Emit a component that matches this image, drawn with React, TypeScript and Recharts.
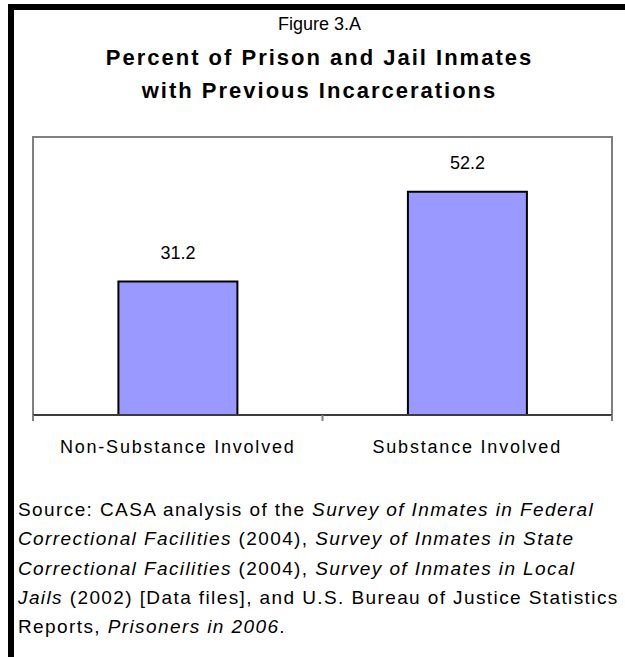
import React from "react";
import {
  BarChart,
  Bar,
  XAxis,
  YAxis,
  LabelList,
  ReferenceArea,
} from "recharts";

const categories: string[] = ["Non-Substance Involved", "Substance Involved"];
const percents: number[] = [31.2, 52.2];
const yDomain: [number, number] = [0, 65];

const data = categories.map((name, i) => ({ name, value: percents[i] }));

const font = '"Liberation Sans", Arial, sans-serif';
const tickGap = 19;

// category tick with Excel-style tick marks on the band boundaries
const CategoryTick = (props: any) => {
  const { x, y, payload, index, visibleTicksCount } = props;
  const half = payload.offset || 0;
  const axisY = y - tickGap;
  return (
    <g>
      <line x1={x - half} x2={x - half} y1={axisY} y2={axisY + 6} stroke="#808080" strokeWidth={2} />
      {index === visibleTicksCount - 1 && (
        <line x1={x + half} x2={x + half} y1={axisY} y2={axisY + 6} stroke="#808080" strokeWidth={2} />
      )}
      <text
        x={x}
        y={y + 6}
        dy="0.71em"
        textAnchor="middle"
        fill="#000"
        fontSize={18}
        fontFamily={font}
        letterSpacing={1.8}
      >
        {payload.value}
      </text>
    </g>
  );
};

const App: React.FC = () => {
  return (
    <div
      style={{
        position: "absolute",
        left: 0,
        top: 0,
        width: 625,
        height: 657,
        background: "#fff",
        fontFamily: font,
        color: "#000",
        overflow: "hidden",
      }}
    >
      <div
        style={{
          position: "absolute",
          left: 8,
          top: 4,
          right: 0,
          bottom: 0,
          borderTop: "6px solid #000",
          borderLeft: "6px solid #000",
        }}
      />
      <div
        style={{
          position: "absolute",
          left: 14,
          right: 0,
          top: 14,
          textAlign: "center",
          fontSize: 18,
          lineHeight: "20px",
        }}
      >
        Figure 3.A
      </div>
      <div
        style={{
          position: "absolute",
          left: 14,
          right: 0,
          top: 41,
          textAlign: "center",
          fontSize: 22,
          fontWeight: "bold",
          lineHeight: "33px",
          letterSpacing: 2,
        }}
      >
        Percent of Prison and Jail Inmates
        <br />
        with Previous Incarcerations
      </div>

      <div style={{ position: "absolute", left: 0, top: 0 }}>
        <BarChart
          width={625}
          height={480}
          data={data}
          margin={{ top: 137, right: 13, bottom: 20, left: 33 }}
          barCategoryGap="29.5%"
        >
          <XAxis
            dataKey="name"
            height={45}
            axisLine={{ stroke: "#3c3c3c", strokeWidth: 2 }}
            tickLine={false}
            tickSize={0}
            tickMargin={tickGap}
            interval={0}
            tick={<CategoryTick />}
          />
          <YAxis domain={yDomain} hide />
          <ReferenceArea
            y1={yDomain[0]}
            y2={yDomain[1]}
            fill="none"
            stroke="#808080"
            strokeWidth={2}
            ifOverflow="visible"
          />
          <Bar
            dataKey="value"
            fill="#9999FF"
            stroke="#000"
            strokeWidth={2}
            isAnimationActive={false}
          >
            <LabelList
              dataKey="value"
              position="top"
              offset={23}
              fill="#000"
              fontSize={18}
              fontFamily={font}
            />
          </Bar>
        </BarChart>
      </div>

      <div
        style={{
          position: "absolute",
          left: 18,
          top: 495,
          width: 607,
          fontSize: 19,
          lineHeight: "29.3px",
          letterSpacing: 1.4,
          whiteSpace: "nowrap",
        }}
      >
        Source: CASA analysis of the <i>Survey of Inmates in Federal</i>
        <br />
        <i>Correctional Facilities</i> (2004), <i>Survey of Inmates in State</i>
        <br />
        <i>Correctional Facilities</i> (2004), <i>Survey of Inmates in Local</i>
        <br />
        <i>Jails</i> (2002) [Data files], and U.S. Bureau of Justice Statistics
        <br />
        Reports, <i>Prisoners in 2006</i>.
      </div>
    </div>
  );
};

export default App;
